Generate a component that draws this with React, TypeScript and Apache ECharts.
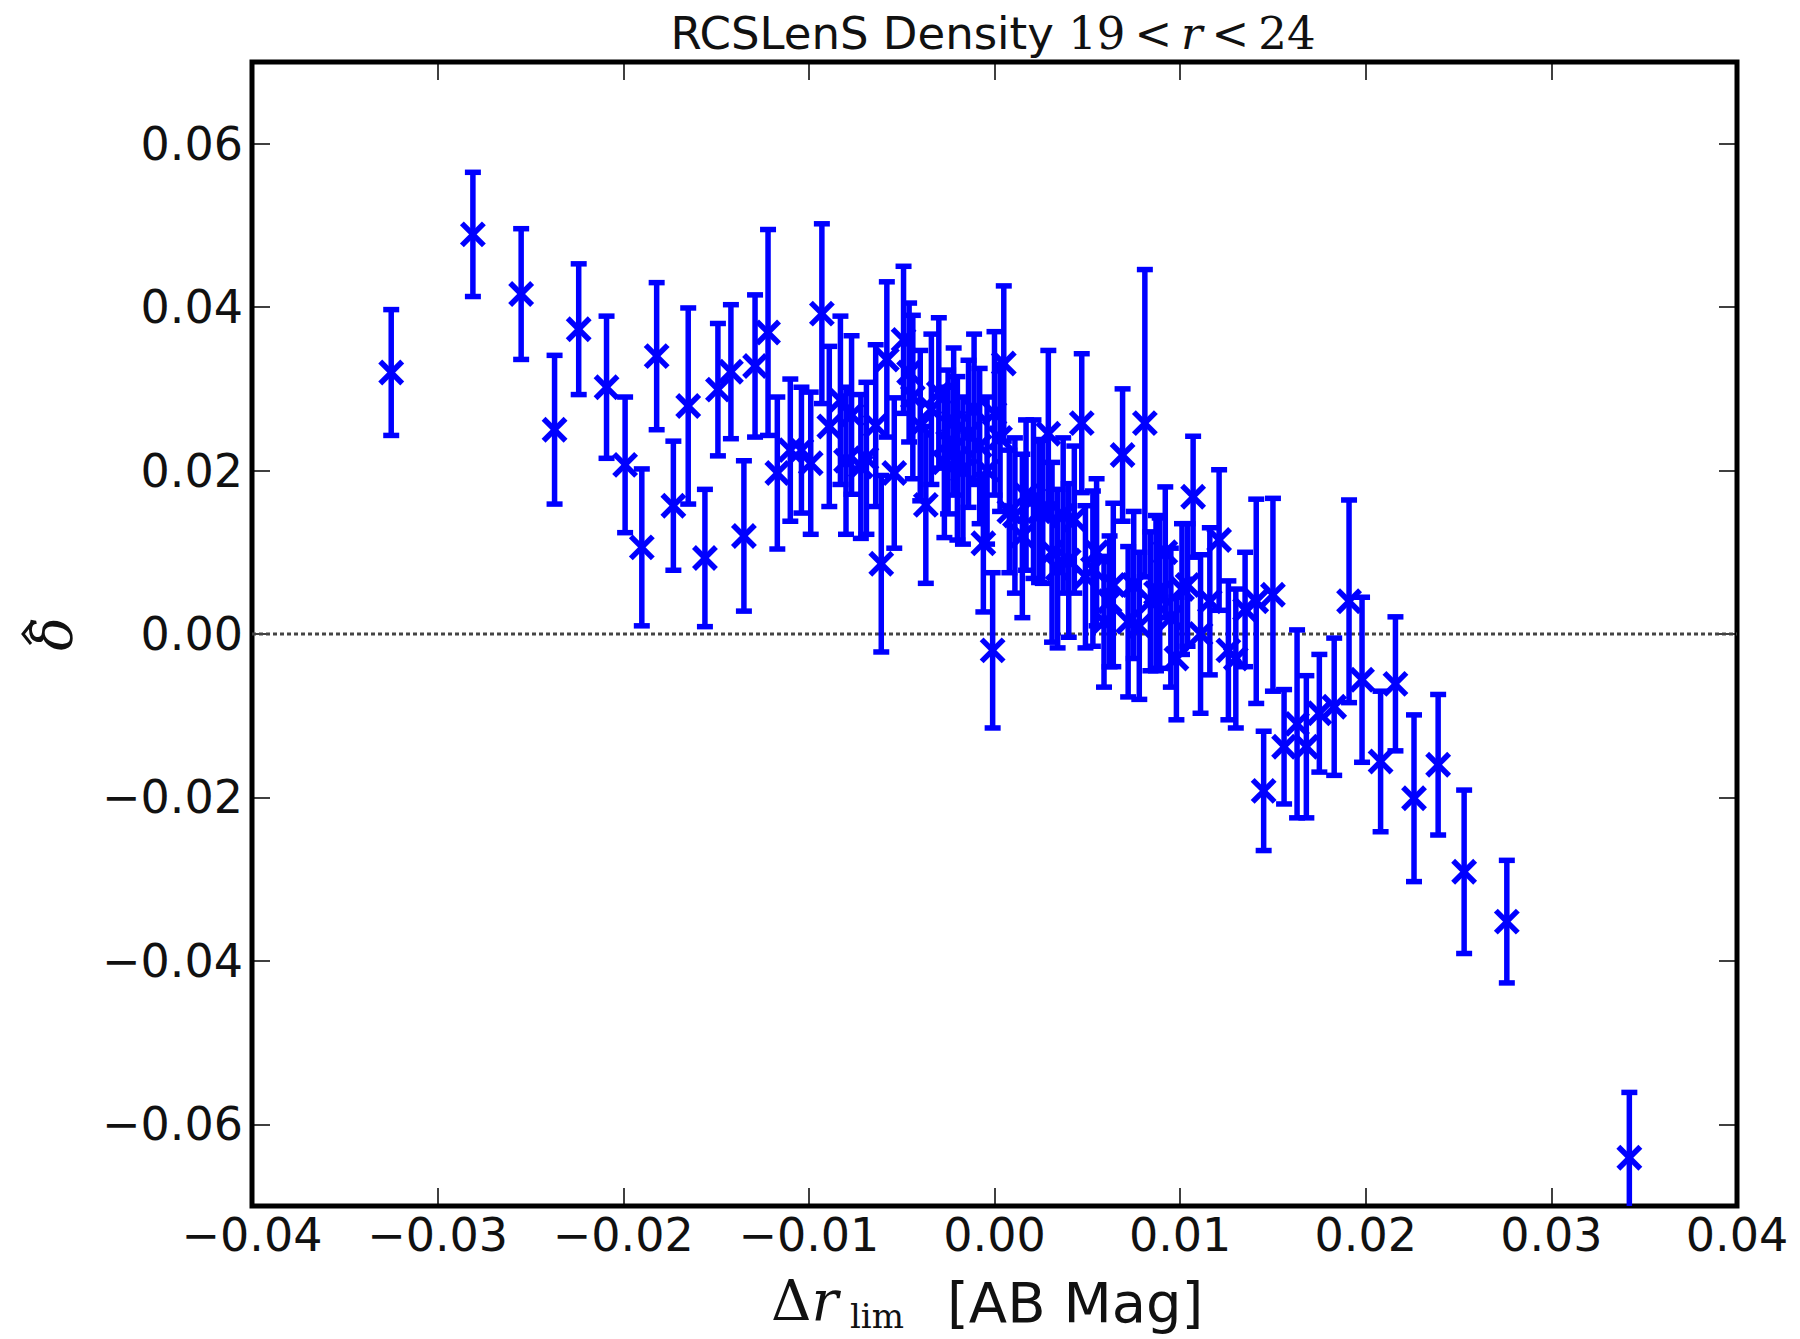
import React, { useEffect, useRef } from "react";
import * as echarts from "echarts";

const deltaR = [
  -0.0325, -0.0281, -0.0255, -0.0237, -0.0224, -0.0209, -0.0199, -0.019, -0.0182, -0.0173,
  -0.0165, -0.0156, -0.0149, -0.0142, -0.0135, -0.0129, -0.0122, -0.0117, -0.011, -0.0104,
  -0.0099, -0.0093, -0.0089, -0.0083, -0.008, -0.0077, -0.0072, -0.0069, -0.0064, -0.0061,
  -0.0058, -0.0054, -0.0049, -0.0046, -0.0044, -0.004, -0.0037, -0.0034, -0.003, -0.0027,
  -0.0025, -0.0022, -0.002, -0.0017, -0.0014, -0.0011, -0.0008, -0.0006, -0.0004, -0.0001,
  0.0, 0.0003, 0.0005, 0.0008, 0.0011, 0.0015, 0.0017, 0.0021, 0.0024, 0.0026,
  0.0029, 0.0031, 0.0034, 0.0037, 0.004, 0.0043, 0.0047, 0.0049, 0.0053, 0.0055,
  0.0059, 0.0062, 0.0064, 0.0069, 0.0072, 0.0075, 0.0078, 0.0081, 0.0084, 0.0087,
  0.0089, 0.0092, 0.0095, 0.0098, 0.0101, 0.0104, 0.0107, 0.0111, 0.0116, 0.0121,
  0.0126, 0.013, 0.0135, 0.0141, 0.0145, 0.015, 0.0156, 0.0163, 0.0168, 0.0175,
  0.0183, 0.0191, 0.0198, 0.0208, 0.0216, 0.0226, 0.0239, 0.0253, 0.0276, 0.0342,
];

const deltaHat = [
  0.032, 0.0489, 0.0416, 0.025, 0.0373, 0.0302, 0.0207, 0.0106, 0.034, 0.0157,
  0.0279, 0.0093, 0.0299, 0.0321, 0.012, 0.0328, 0.0369, 0.0197, 0.0225, 0.0225,
  0.0209, 0.0392, 0.0254, 0.0286, 0.0212, 0.0268, 0.0205, 0.0215, 0.0255, 0.0086,
  0.0336, 0.0197, 0.036, 0.032, 0.029, 0.0255, 0.0158, 0.0275, 0.0295, 0.021,
  0.0235, 0.026, 0.0215, 0.02, 0.0245, 0.0275, 0.023, 0.0111, 0.02, -0.002,
  0.027, 0.024, 0.0331, 0.015, 0.0145, 0.012, 0.017, 0.0165, 0.015, 0.015,
  0.0245, 0.01, 0.008, 0.0145, 0.009, 0.014, 0.0258, 0.007, 0.008, 0.01,
  0.0015, 0.004, 0.006, 0.0219, 0.0015, 0.006, 0.001, 0.0258, 0.004, 0.005,
  0.005, 0.01, 0.002, -0.003, 0.0055, 0.006, 0.0168, 0.0, 0.004, 0.0115,
  -0.002, -0.003, 0.003, 0.004, -0.0192, 0.0048, -0.0138, -0.011, -0.0138, -0.0097,
  -0.0089, 0.004, -0.0056, -0.0156, -0.0061, -0.0201, -0.016, -0.0291, -0.0352, -0.0641,
];

const deltaErr = [
  0.0077, 0.0076, 0.008, 0.0091, 0.008, 0.0087, 0.0083, 0.0096, 0.009, 0.0079,
  0.012, 0.0084, 0.0081, 0.0082, 0.0092, 0.0087, 0.0126, 0.0093, 0.0087, 0.0077,
  0.0087, 0.011, 0.0098, 0.0103, 0.009, 0.0097, 0.0088, 0.0093, 0.0099, 0.0108,
  0.0095, 0.0092, 0.009, 0.0085, 0.01, 0.0092, 0.0096, 0.0092, 0.0092, 0.0092,
  0.0088, 0.009, 0.01, 0.009, 0.009, 0.0092, 0.0095, 0.0084, 0.009, 0.0095,
  0.01, 0.009, 0.0095, 0.0075, 0.0095, 0.01, 0.0092, 0.0097, 0.0087, 0.0088,
  0.0102, 0.011, 0.0097, 0.0095, 0.0094, 0.009, 0.0085, 0.0087, 0.0095, 0.009,
  0.008, 0.008, 0.01, 0.0081, 0.0092, 0.009, 0.009, 0.0188, 0.0085, 0.0095,
  0.0092, 0.008, 0.0085, 0.0075, 0.008, 0.0075, 0.0074, 0.0097, 0.009, 0.0086,
  0.0085, 0.0085, 0.007, 0.0125, 0.0073, 0.0118, 0.007, 0.0115, 0.0087, 0.0072,
  0.0084, 0.0124, 0.0101, 0.0086, 0.0082, 0.0102, 0.0086, 0.01, 0.0075, 0.008,
];

const xTicks = [-0.04, -0.03, -0.02, -0.01, 0.0, 0.01, 0.02, 0.03, 0.04];
const yTicks = [-0.06, -0.04, -0.02, 0.0, 0.02, 0.04, 0.06];

const fmt = (v: number) => {
  const r = Math.round(v * 100) / 100;
  if (Math.abs(r) < 1e-9) return "0.00";
  return (r < 0 ? "\u2212" : "") + Math.abs(r).toFixed(2);
};

export default function App() {
  const ref = useRef<HTMLDivElement>(null);

  useEffect(() => {
    if (!ref.current) return;
    const chart = echarts.init(ref.current, null, { renderer: "svg" });
    const data = deltaR.map((x, i) => [x, deltaHat[i], deltaErr[i]]);
    const BLUE = "#0000ff";

    const tickStyle = { color: "#000", width: 1.5 };
    const mkX = (pos: "bottom" | "top", labels: boolean) => ({
      type: "value",
      position: pos,
      min: -0.04,
      max: 0.04,
      interval: 0.01,
      axisLine: { show: false, onZero: false },
      axisTick: { show: true, inside: true, length: 18, lineStyle: tickStyle, customValues: xTicks },
      axisLabel: {
        show: labels,
        customValues: xTicks,
        formatter: fmt,
        fontFamily: "DejaVu Sans",
        fontSize: 46,
        color: "#111",
        margin: 6,
        showMinLabel: true,
        showMaxLabel: true,
        hideOverlap: false,
      },
      splitLine: { show: false },
    });
    const mkY = (pos: "left" | "right", labels: boolean) => ({
      type: "value",
      position: pos,
      min: -0.07,
      max: 0.07,
      axisLine: { show: false, onZero: false },
      axisTick: { show: true, inside: true, length: 18, lineStyle: tickStyle, customValues: yTicks },
      axisLabel: {
        show: labels,
        customValues: yTicks,
        formatter: fmt,
        fontFamily: "DejaVu Sans",
        fontSize: 46,
        color: "#111",
        margin: 9,
        hideOverlap: false,
      },
      splitLine: { show: false },
    });

    chart.setOption({
      animation: false,
      backgroundColor: "#ffffff",
      grid: {
        left: 252,
        right: 63,
        top: 62,
        bottom: 133,
        show: true,
        borderColor: "#000",
        borderWidth: 5,
        backgroundColor: "transparent",
      },
      xAxis: [mkX("bottom", true), mkX("top", false)],
      yAxis: [mkY("left", true), mkY("right", false)],
      graphic: [
        {
          type: "text",
          x: 993,
          y: 33,
          style: {
            text: "{s|RCSLenS Density }{m|19\u2009<\u2009}{i|r}{m|\u2009<\u200924}",
            align: "center",
            verticalAlign: "middle",
            fill: "#111",
            rich: {
              s: { fontFamily: "DejaVu Sans", fontSize: 45, fill: "#111" },
              m: { fontFamily: "DejaVu Serif", fontSize: 45, fill: "#111" },
              i: { fontFamily: "DejaVu Serif", fontStyle: "italic", fontSize: 45, fill: "#111" },
            },
          },
        },
        {
          type: "text",
          x: 52,
          y: 634,
          rotation: Math.PI / 2,
          style: {
            text: "\u03b4",
            fontFamily: "DejaVu Serif",
            fontStyle: "italic",
            fontSize: 56,
            fill: "#111",
            align: "center",
            verticalAlign: "middle",
          },
        },
        {
          type: "polyline",
          shape: {
            points: [
              [31, 624],
              [23, 634],
              [31, 644],
            ],
          },
          style: { stroke: "#111", lineWidth: 3, fill: "none" },
        },
        {
          type: "text",
          x: 771,
          y: 1300,
          style: {
            text: "{d|\u0394}{r|r}",
            align: "left",
            verticalAlign: "middle",
            rich: {
              d: { fontFamily: "DejaVu Serif", fontSize: 56, fill: "#111" },
              r: { fontFamily: "DejaVu Serif", fontStyle: "italic", fontSize: 56, fill: "#111" },
            },
          },
        },
        {
          type: "text",
          x: 850,
          y: 1316,
          style: {
            text: "lim",
            fontFamily: "DejaVu Serif",
            fontSize: 34,
            fill: "#111",
            align: "left",
            verticalAlign: "middle",
          },
        },
        {
          type: "text",
          x: 947,
          y: 1302,
          style: {
            text: "[AB Mag]",
            fontFamily: "DejaVu Sans",
            fontSize: 56,
            fill: "#111",
            align: "left",
            verticalAlign: "middle",
          },
        },
      ],
      series: [
        {
          type: "line",
          data: [
            [-0.04, 0],
            [0.04, 0],
          ],
          symbol: "none",
          silent: true,
          lineStyle: { color: "#444", width: 3, type: [4, 3] },
          z: 1,
        },
        {
          type: "custom",
          clip: true,
          z: 3,
          data,
          renderItem: (params: any, api: any) => {
            const x = api.value(0);
            const y = api.value(1);
            const e = api.value(2);
            const c = api.coord([x, y]);
            const t = api.coord([x, y + e]);
            const b = api.coord([x, y - e]);
            const cap = 8;
            const m = 11;
            const st = { stroke: BLUE, lineWidth: 5.5 };
            return {
              type: "group",
              children: [
                { type: "line", shape: { x1: c[0], y1: t[1], x2: c[0], y2: b[1] }, style: st },
                { type: "line", shape: { x1: c[0] - cap, y1: t[1], x2: c[0] + cap, y2: t[1] }, style: st },
                { type: "line", shape: { x1: c[0] - cap, y1: b[1], x2: c[0] + cap, y2: b[1] }, style: st },
                { type: "line", shape: { x1: c[0] - m, y1: c[1] - m, x2: c[0] + m, y2: c[1] + m }, style: st },
                { type: "line", shape: { x1: c[0] - m, y1: c[1] + m, x2: c[0] + m, y2: c[1] - m }, style: st },
              ],
            };
          },
        },
      ],
    });

    return () => chart.dispose();
  }, []);

  return (
    <div
      ref={ref}
      style={{ position: "fixed", left: 0, top: 0, width: 1800, height: 1339, background: "#fff" }}
    />
  );
}
